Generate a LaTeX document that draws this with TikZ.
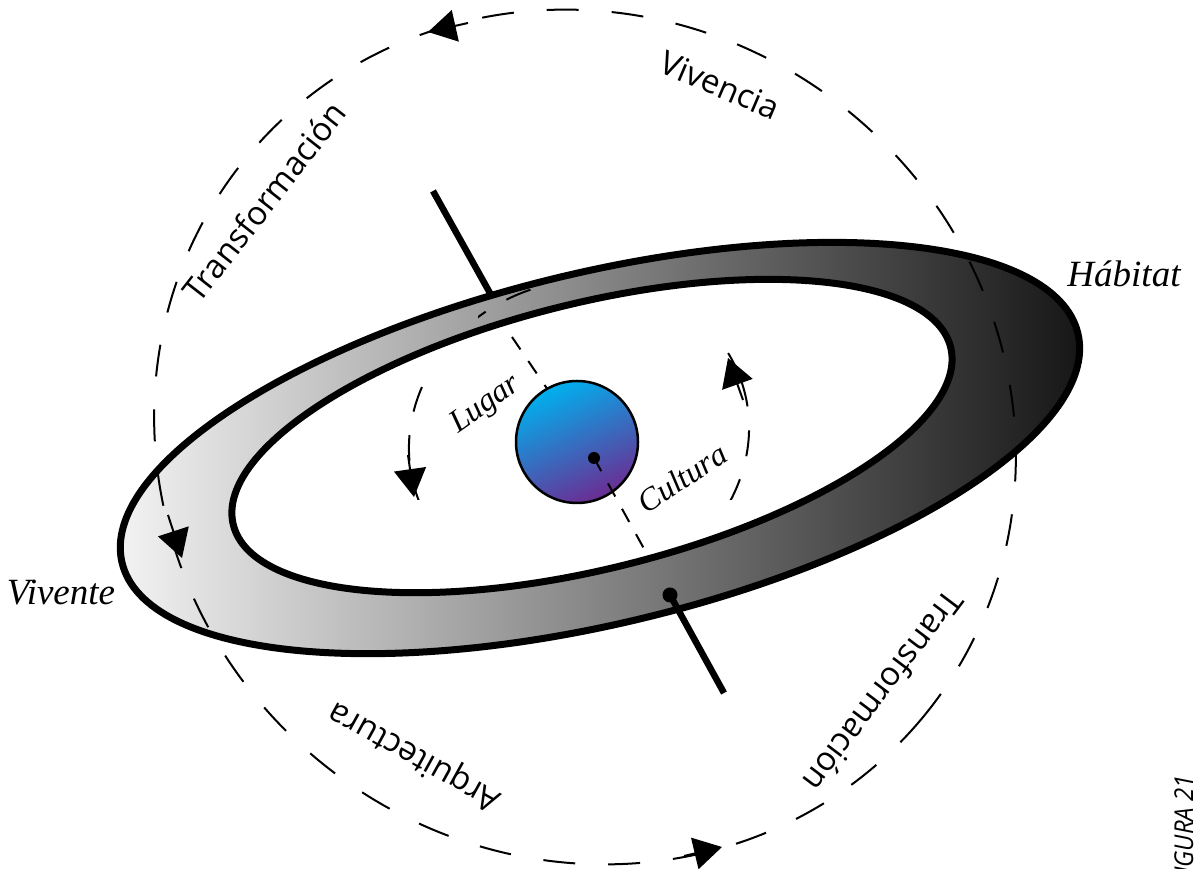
\documentclass[tikz,border=0pt]{standalone}
\usepackage{fontspec}
\usepackage{graphicx}
\newfontfamily\sansf{Open Sans}
\newfontfamily\serf{Liberation Serif}
\usetikzlibrary{arrows.meta}
\definecolor{ballcyan}{RGB}{0,176,238}
\definecolor{ballblue}{RGB}{28,118,190}
\definecolor{ballpurple}{RGB}{108,44,146}
\begin{document}
\begin{tikzpicture}[x=1pt,y=1pt,
  outerdash/.style={line width=2pt, dash pattern=on 32pt off 33pt},
  loopdash/.style={line width=2pt, dash pattern=on 26pt off 24pt},
  axisdash/.style={line width=2pt, dash pattern=on 15pt off 14pt},
  ringline/.style={line width=7pt},
  thickaxis/.style={line width=6.5pt},
  arrowhead/.style={line width=2pt, -{Triangle[length=28pt,width=32pt]}},
  sanslabel/.style={font=\sansf\fontsize{33}{38}\selectfont, inner sep=0pt},
  seriflabel/.style={font=\serf\itshape\fontsize{37}{42}\selectfont, inner sep=0pt},
  smallserif/.style={font=\serf\itshape\fontsize{32}{36}\selectfont, inner sep=0pt},
]
\useasboundingbox (0,0) rectangle (1197,869);

\coordinate (O) at (585,432);
\coordinate (R1) at (600,421);
\coordinate (R2) at (592,433);
\coordinate (B) at (577,427);
\coordinate (C) at (594,411);
\coordinate (L) at (579,431);
\coordinate (A1) at (433,678);
\coordinate (A2) at (500,558);
\coordinate (A3) at (512,532);
\coordinate (A4) at (648,313);
\coordinate (D) at (670,274);
\coordinate (A5) at (724,176);
% arrow stems and tips
\coordinate (lp1) at (408,414); \coordinate (lq1) at (414,372);
\coordinate (lp2) at (743,469); \coordinate (lq2) at (728,511);
\coordinate (op1) at (468,846); \coordinate (oq1) at (428,837);
\coordinate (op2) at (168,354); \coordinate (oq2) at (182,311);
\coordinate (op3) at (684,13);  \coordinate (oq3) at (722,22);

% upper part of the axis (goes under the ring)
\draw[thickaxis] (A1) -- (A2);

% ring
\shade[rotate around={13.5:(R1)}, left color=black!3, right color=black!93]
  (R1) ellipse[x radius=491.5, y radius=175.5];
\fill[white, rotate around={13.9:(R2)}] (R2) ellipse[x radius=369.5, y radius=133];
\draw[ringline, rotate around={13.5:(R1)}] (R1) ellipse[x radius=491.5, y radius=175.5];
\draw[ringline, rotate around={13.9:(R2)}] (R2) ellipse[x radius=369.5, y radius=133];

% dashed axis above the ball
\draw[axisdash] (A3) -- (C);

% inner loop (only partly visible)
\begin{scope}
  \clip (380,369) rectangle (450,494)
        (700,369) rectangle (780,519)
        (478,549) rectangle (540,589);
  \draw[loopdash, rotate around={21:(L)}] (L) ellipse[x radius=172, y radius=156];
\end{scope}
\draw[arrowhead] (lp1) -- (lq1);
\draw[arrowhead] (lp2) -- (lq2);

% ball
\shade[top color=ballcyan, middle color=ballblue, bottom color=ballpurple, shading angle=25]
  (B) circle[radius=61];
\draw[line width=2.5pt] (B) circle[radius=61];
\fill (C) circle[radius=6];
\draw[axisdash] (C) -- (A4);

% lower part of the axis
\fill (D) circle[radius=7.5];
\draw[thickaxis] (D) -- (A5);

% outer dashed loop
\draw[outerdash, rotate around={-40:(O)}] (O) ellipse[x radius=439, y radius=419];
\draw[arrowhead] (op1) -- (oq1);
\draw[arrowhead] (op2) -- (oq2);
\draw[arrowhead] (op3) -- (oq3);

% labels
\node[sanslabel, rotate=-23] (viv) at (720,784) {Vivencia};
\node[sanslabel, rotate=52, anchor=base] (tr1) at (274,660) {Transformación};
\node[sanslabel, rotate=-127] (tr2) at (884,177) {Transformación};
\node[sanslabel, rotate=151] (arq) at (415,114) {Arquitectura};
\node[seriflabel, anchor=base] (hab) at (1124,582) {Hábitat};
\node[seriflabel, anchor=base] (vivt) at (61,264) {Vivente};
\node[smallserif, rotate=35] (lug) at (486,464) {Lugar};
\node[smallserif, rotate=33] (cul) at (682,391) {Cultura};
\node[font=\sansf\itshape\fontsize{26}{30}\selectfont, rotate=90, anchor=base east, inner sep=0pt] (fig) at (1193,94) {\scalebox{0.92}[1]{FIGURA 21}};
\end{tikzpicture}
\end{document}
